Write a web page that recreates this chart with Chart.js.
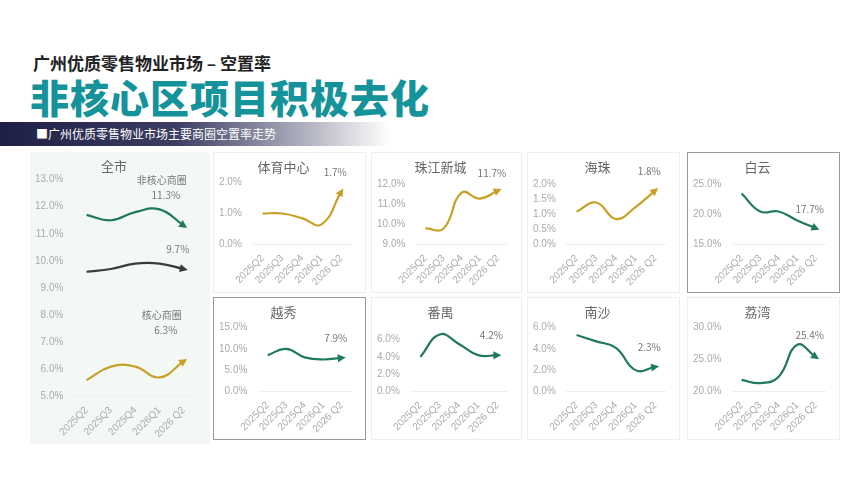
<!DOCTYPE html>
<html><head><meta charset="utf-8">
<script src="https://cdn.jsdelivr.net/npm/chart.js@4"></script>
<style>
body{margin:0;width:864px;height:478px;background:#fff;font-family:"Noto Sans CJK SC","Noto Sans",sans-serif;position:relative;overflow:hidden}
.t1{position:absolute;left:33px;top:50px;font-size:17px;font-weight:bold;color:#222}
.t2{position:absolute;left:30px;top:68px;font-size:39px;font-weight:900;color:#15939a;letter-spacing:1px}
.band{position:absolute;left:0;top:122px;width:390px;height:24px;background:linear-gradient(90deg,#1d1f44 0%,#3b3d63 45%,#c9c9d3 85%,#fff 100%)}
.band span{position:absolute;left:36px;top:3px;color:#fff;font-size:12px}
.p{position:absolute;box-sizing:border-box;border:1px solid #eee}
.p.dark{border:1px solid #999}
.p.city{background:#f4f8f5;border:none}
</style></head><body>
<div class="t1">广州优质零售物业市场 – 空置率</div>
<div class="t2">非核心区项目积极去化</div>
<div class="band"><span>■广州优质零售物业市场主要商圈空置率走势</span></div>

<div class="p city" style="left:30px;top:152px;width:180px;height:292px"><canvas id="c0"></canvas></div>
<div class="p" style="left:213px;top:152px;width:153px;height:141px"><canvas id="c1"></canvas></div>
<div class="p" style="left:371px;top:152px;width:151px;height:141px"><canvas id="c2"></canvas></div>
<div class="p" style="left:527px;top:152px;width:153px;height:141px"><canvas id="c3"></canvas></div>
<div class="p dark" style="left:687px;top:152px;width:153px;height:141px"><canvas id="c4"></canvas></div>
<div class="p dark" style="left:213px;top:297px;width:153px;height:143px"><canvas id="c5"></canvas></div>
<div class="p" style="left:371px;top:297px;width:151px;height:143px"><canvas id="c6"></canvas></div>
<div class="p" style="left:527px;top:297px;width:153px;height:143px"><canvas id="c7"></canvas></div>
<div class="p" style="left:687px;top:297px;width:153px;height:143px"><canvas id="c8"></canvas></div>

<script>
const quarters = ['2025Q2','2025Q3','2025Q4','2026Q1','2026 Q2'];
const cityNonCore = [11.7, 11.5, 11.8, 11.9, 11.3];
const cityAll = [9.6, 9.7, 9.9, 9.9, 9.7];
const cityCore = [5.6, 6.1, 6.1, 5.7, 6.3];
const tiyu = [1.0, 1.0, 0.85, 0.65, 1.7];
const zhujiang = [9.8, 9.8, 11.6, 11.3, 11.7];
const haizhu = [1.1, 1.4, 0.85, 1.25, 1.8];
const baiyun = [23.5, 20.5, 20.5, 19.0, 17.7];
const yuexiu = [8.5, 10.0, 8.0, 7.5, 7.9];
const panyu = [4.0, 6.6, 5.5, 4.2, 4.2];
const nansha = [5.3, 4.7, 4.1, 2.0, 2.3];
const liwan = [21.8, 21.3, 22.3, 27.3, 25.4];

const GREEN = '#1f7a59', GOLD = '#c6a126', DARK = '#3a3a3a';

const endPlugin = {
  id: 'endmark',
  afterDatasetsDraw(chart) {
    const ctx = chart.ctx;
    chart.data.datasets.forEach((ds, i) => {
      const pts = chart.getDatasetMeta(i).data;
      const a = pts[pts.length - 2], b = pts[pts.length - 1];
      const ang = Math.atan2(b.y - a.y, b.x - a.x);
      ctx.save();
      ctx.translate(b.x, b.y); ctx.rotate(ang);
      ctx.fillStyle = ds.borderColor;
      ctx.beginPath(); ctx.moveTo(4, 0); ctx.lineTo(-4, -4); ctx.lineTo(-4, 4); ctx.closePath(); ctx.fill();
      ctx.restore();
      ctx.save();
      ctx.fillStyle = '#777'; ctx.font = '10px "Noto Sans CJK SC", sans-serif'; ctx.textAlign = 'center';
      const v = ds.data[ds.data.length - 1].toFixed(1) + '%';
      if (ds.tag) {
        ctx.fillText(ds.tag, b.x - 22, b.y - 42);
        ctx.fillText(v, b.x - 18, b.y - 27);
      } else {
        ctx.fillText(v, b.x - 6, b.y - (ds.labelUp || 16));
      }
      ctx.restore();
    });
  }
};

function makeChart(id, title, sets, min, max, step, gap) {
  new Chart(document.getElementById(id), {
    type: 'line',
    data: { labels: quarters, datasets: sets.map(s => ({
      data: s.data, borderColor: s.color, borderWidth: 2.2, tension: 0.45,
      pointRadius: 0, clip: false, tag: s.tag, labelUp: s.labelUp
    })) },
    options: {
      responsive: true, maintainAspectRatio: false, animation: false,
      layout: { padding: { top: 6, right: 14, left: 2, bottom: 4 } },
      plugins: {
        legend: { display: false }, tooltip: { enabled: false },
        title: { display: true, text: title, color: '#666', font: { size: 13, family: '"Noto Sans CJK SC"', weight: 'normal' }, padding: { top: 0, bottom: gap } }
      },
      scales: {
        x: { offset: true, grid: { display: false }, border: { color: '#eee' },
             ticks: { autoSkip: false, color: '#aaa', maxRotation: 45, minRotation: 45, font: { size: 10 }, padding: 0 } },
        y: { min: min, max: max, grid: { display: false }, border: { display: false },
             ticks: { autoSkip: false, stepSize: step, color: '#aaa', font: { size: 10 }, callback: v => v.toFixed(1) + '%' } }
      }
    },
    plugins: [endPlugin]
  });
}

makeChart('c0', '全市', [
  { data: cityNonCore, color: GREEN, tag: '非核心商圈' },
  { data: cityAll, color: DARK },
  { data: cityCore, color: GOLD, tag: '核心商圈' }
], 5, 13, 1, 6);
makeChart('c1', '体育中心', [{ data: tiyu, color: GOLD }], 0, 2, 1, 8);
makeChart('c2', '珠江新城', [{ data: zhujiang, color: GOLD, labelUp: 14 }], 9, 12, 1, 10);
makeChart('c3', '海珠', [{ data: haizhu, color: GOLD }], 0, 2, 0.5, 10);
makeChart('c4', '白云', [{ data: baiyun, color: GREEN, labelUp: 15 }], 15, 25, 5, 10);
makeChart('c5', '越秀', [{ data: yuexiu, color: GREEN }], 0, 15, 5, 8);
makeChart('c6', '番禺', [{ data: panyu, color: GREEN }], 0, 6, 2, 20);
makeChart('c7', '南沙', [{ data: nansha, color: GREEN }], 0, 6, 2, 8);
makeChart('c8', '荔湾', [{ data: liwan, color: GREEN, labelUp: 18 }], 20, 30, 5, 8);
</script>
</body></html>
